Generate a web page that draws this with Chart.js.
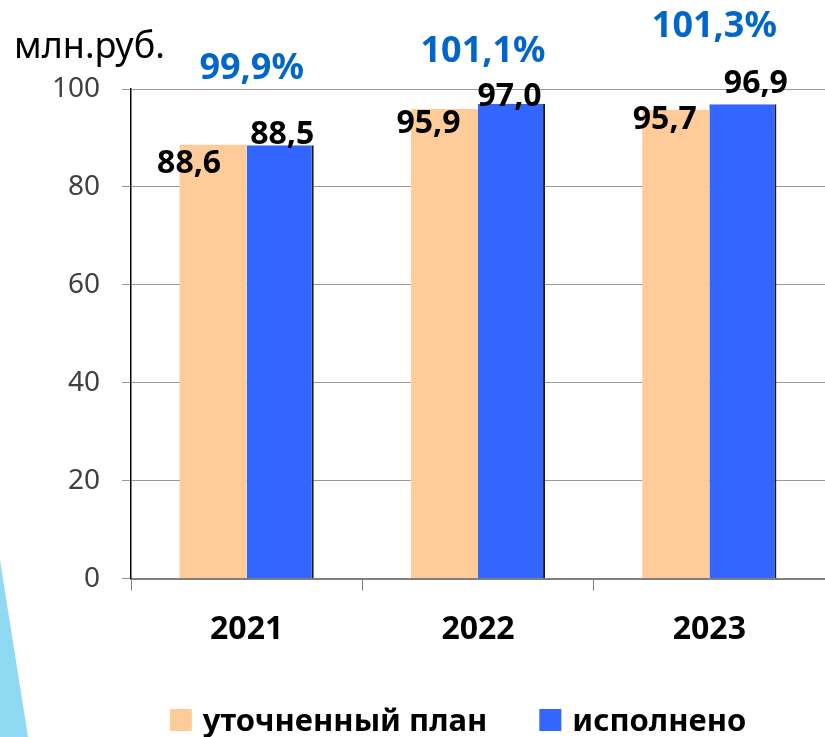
<!DOCTYPE html>
<html>
<head>
<meta charset="utf-8">
<script src="https://cdn.jsdelivr.net/npm/chart.js@4"></script>
<style>
html,body{margin:0;padding:0;background:#fff;}
#wrap{width:825px;height:737px;position:relative;}
</style>
</head>
<body>
<div id="wrap"><canvas id="c" width="825" height="737"></canvas></div>
<script>
const categories = ['2021', '2022', '2023'];
const planValues = [88.6, 95.9, 95.7];
const doneValues = [88.5, 97.0, 96.9];
const planLabels = ['88,6', '95,9', '95,7'];
const doneLabels = ['88,5', '97,0', '96,9'];
const percentLabels = ['99,9%', '101,1%', '101,3%'];
const yTicks = [0, 20, 40, 60, 80, 100];
const seriesNames = ['уточненный план', 'исполнено'];
const unitLabel = 'млн.руб.';

const FONT = "'Noto Sans', 'Open Sans', sans-serif";
const ORANGE = '#FFCC99';
const BLUE = '#3366FF';

const decoPlugin = {
  id: 'deco',
  beforeDraw(chart) {
    const ctx = chart.ctx;
    ctx.save();
    ctx.fillStyle = '#fff';
    ctx.fillRect(0, 0, chart.width, chart.height);
    // decorative slide triangle
    ctx.fillStyle = '#8fd9f2';
    ctx.beginPath();
    ctx.moveTo(0, chart.height - 177);
    ctx.lineTo(28, chart.height);
    ctx.lineTo(0, chart.height);
    ctx.closePath();
    ctx.fill();
    ctx.restore();
  }
};

const labelPlugin = {
  id: 'labels',
  afterDatasetsDraw(chart, args, opts) {
    const ctx = chart.ctx;
    const ca = chart.chartArea;
    ctx.save();
    // value labels
    const lists = [planLabels, doneLabels];
    [0, 1].forEach(di => {
      const meta = chart.getDatasetMeta(di);
      meta.data.forEach((bar, i) => {
        const off = opts.offsets[di][i];
        ctx.font = 'bold 32px ' + FONT;
        ctx.fillStyle = '#000';
        ctx.textAlign = 'center';
        ctx.textBaseline = 'alphabetic';
        ctx.fillText(lists[di][i], bar.x + off[0], bar.y + off[1]);
      });
    });
    // percent labels
    const xs = chart.scales.x;
    categories.forEach((c, i) => {
      const x = xs.getPixelForValue(i);
      ctx.font = 'bold 36px ' + FONT;
      ctx.fillStyle = '#0066CC';
      ctx.textAlign = 'center';
      ctx.textBaseline = 'alphabetic';
      ctx.fillText(percentLabels[i], x + opts.pctDx, ca.top + opts.pctDy[i]);
    });
    // unit label
    ctx.font = '36px ' + FONT;
    ctx.fillStyle = '#000';
    ctx.textAlign = 'left';
    ctx.fillText(unitLabel, ca.left - 117, ca.top - 31);
    // legend
    ctx.font = 'bold 31px ' + FONT;
    const box = 22, gapText = 11, gapItem = 52;
    const colors = [ORANGE, BLUE];
    const widths = seriesNames.map(s => ctx.measureText(s).width);
    const total = widths.reduce((a, w) => a + box + gapText + w, 0) + gapItem;
    let x = (ca.left + ca.right) / 2 - 20 - total / 2;
    const yc = chart.height - 17;
    seriesNames.forEach((s, i) => {
      ctx.fillStyle = colors[i];
      ctx.fillRect(x, yc - box / 2, box, box);
      ctx.fillStyle = '#000';
      ctx.textAlign = 'left';
      ctx.textBaseline = 'alphabetic';
      ctx.fillText(s, x + box + gapText, yc + 11);
      x += box + gapText + widths[i] + gapItem;
    });
    ctx.restore();
  }
};

new Chart(document.getElementById('c'), {
  type: 'bar',
  data: {
    labels: categories,
    datasets: [
      { label: seriesNames[0], data: planValues, backgroundColor: ORANGE, borderWidth: 0 },
      { label: seriesNames[1], data: doneValues, backgroundColor: BLUE, borderColor: '#1a1a1a',
        borderWidth: { top: 0, right: 2, bottom: 0, left: 0 }, borderSkipped: false }
    ]
  },
  options: {
    responsive: false,
    animation: false,
    devicePixelRatio: 1,
    layout: { padding: { top: 89, left: 50, right: -5, bottom: 68 } },
    datasets: { bar: { categoryPercentage: 0.58, barPercentage: 1.0 } },
    plugins: {
      legend: { display: false },
      tooltip: { enabled: false },
      labels: {
        offsets: [
          [[-24, 28], [-16, 24], [-11, 19]],
          [[2, -1], [-2, 2], [13, -11]]
        ],
        pctDx: 5,
        pctDy: [-10, -27, -52]
      }
    },
    scales: {
      x: {
        grid: { offset: true, drawOnChartArea: false, drawTicks: true, tickLength: 12, color: '#808080', lineWidth: 1 },
        border: { color: '#808080', width: 2 },
        ticks: { color: '#000', font: { family: FONT, size: 32, weight: 'bold' }, padding: 20 }
      },
      y: {
        min: 0, max: 100,
        afterBuildTicks(scale) { scale.ticks = yTicks.map(v => ({ value: v })); },
        afterFit(scale) { scale.width = 81; },
        grid: { color: '#999999', lineWidth: 1, tickLength: 9 },
        border: { color: '#000', width: 1.5 },
        ticks: { color: '#404040', font: { family: FONT, size: 28 }, padding: 22 }
      }
    }
  },
  plugins: [decoPlugin, labelPlugin]
});
</script>
</body>
</html>
